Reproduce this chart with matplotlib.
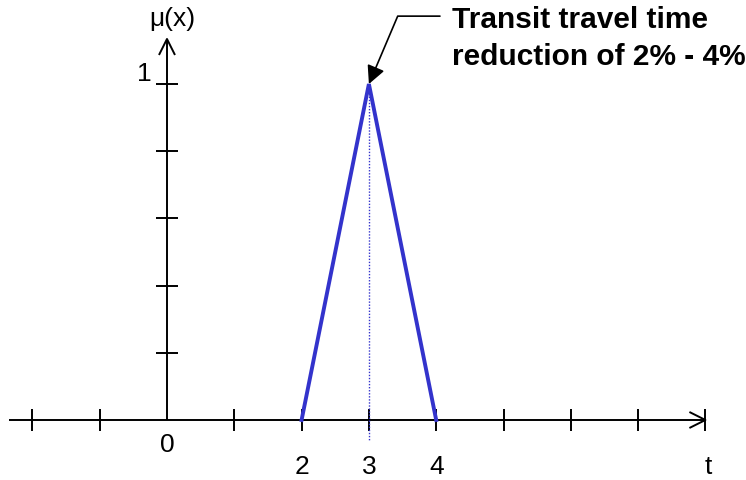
import numpy as np
import matplotlib.pyplot as plt

plt.rcParams['font.family'] = ['Liberation Sans', 'DejaVu Sans']

# triangular membership function
t_pts = [2, 3, 4]
mu_pts = [0, 1, 0]
x_ticks = [-2, -1, 1, 2, 3, 4, 5, 6, 7, 8]
y_ticks = [0.2, 0.4, 0.6, 0.8, 1.0]
x_labels = {0: '0', 2: '2', 3: '3', 4: '4'}
peak_t = 3
note = 'Transit travel time\nreduction of 2% - 4%'

fig = plt.figure(figsize=(7.46, 4.81), dpi=100)
ax = fig.add_axes([0, 0, 1, 1])
ax.set_xlim(-2.481, 8.603)
ax.set_ylim(-0.1786, 1.253)
ax.axis('off')

px_x = 1 / 67.3    # data units per pixel, horizontal
px_y = 1 / 336.0   # data units per pixel, vertical
k = dict(color='black', lw=1.4, solid_capstyle='butt')

# axes lines
ax.plot([-2.35, 8.0], [0, 0], **k)
ax.plot([0, 0], [0, 1.134], **k)

# open arrowheads
ax.plot([8.0 - 16 * px_x, 8.0, 8.0 - 16 * px_x], [8 * px_y, 0, -8 * px_y], **k)
ax.plot([-8 * px_x, 0, 8 * px_x], [1.134 - 16 * px_y, 1.134, 1.134 - 16 * px_y], **k)

# tick marks
for xt in x_ticks:
    ax.plot([xt, xt], [-11 * px_y, 11 * px_y], **k)
for yt in y_ticks:
    ax.plot([-11 * px_x, 11 * px_x], [yt, yt], **k)

# membership triangle and peak guide
ax.plot([peak_t, peak_t], [1, -20 * px_y], color='#3333cc', lw=1, ls=(0, (1, 1.2)))
ax.plot(t_pts, mu_pts, color='#3333cc', lw=2.8, solid_joinstyle='miter')

# labels
fs = 19
ax.text(0, -24 * px_y, x_labels[0], ha='center', va='center', fontsize=fs)
for v in (2, 3, 4):
    ax.text(v, -46 * px_y, x_labels[v], ha='center', va='center', fontsize=fs)
ax.text(8.05, -46 * px_y, 't', ha='center', va='center', fontsize=fs)
ax.text(-23 * px_x, 1 + 11 * px_y, '1', ha='center', va='center', fontsize=fs)
ax.text(0.074, 1.195, 'μ(x)', ha='center', va='center', fontsize=fs)

# annotation text and leader line
ax.text(4.235, 1.138, note, ha='left', va='center', fontsize=21.5,
        fontweight='bold', linespacing=1.4)
ax.annotate('', xy=(peak_t, 1), xytext=(4.056, 1.202),
            arrowprops=dict(arrowstyle='-|>,head_length=1.1,head_width=0.55',
                            color='black', lw=1.2, shrinkA=0, shrinkB=0,
                            connectionstyle='angle,angleA=0,angleB=67,rad=0'))

fig.savefig('out.png', dpi=100)
